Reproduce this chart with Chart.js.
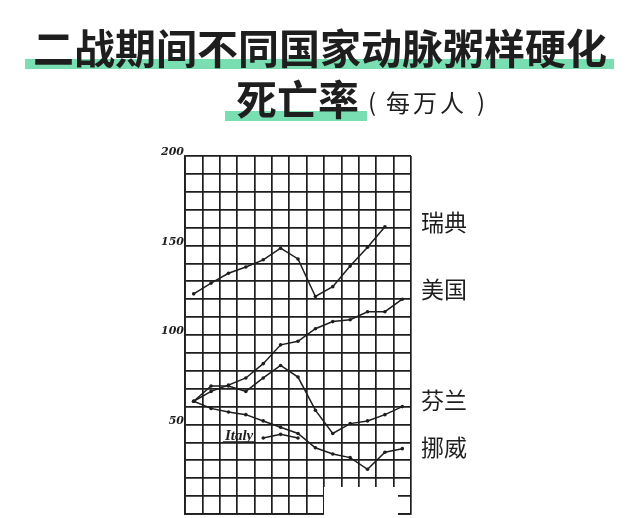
<!DOCTYPE html>
<html lang="zh">
<head>
<meta charset="UTF-8">
<title>二战期间不同国家动脉粥样硬化死亡率</title>
<script src="https://cdn.jsdelivr.net/npm/chart.js@4.4.1/dist/chart.umd.min.js"></script>
<style>
  html, body { margin: 0; padding: 0; background: #fff; }
  #wrap { position: relative; width: 640px; height: 518px; overflow: hidden; }
</style>
</head>
<body>
<div id="wrap"><canvas id="chart" width="640" height="518"></canvas></div>
<script>
// years are not printed on the original, 13 columns
const years = ['1937', '1938', '1939', '1940', '1941', '1942', '1943', '1944', '1945', '1946', '1947', '1948', '1949'];
const sweden  = [123, 129, 134.5, 138, 142, 148.5, 142.5, 121.5, 127, 138.5, 149, 160.5, null];
const usa     = [63, 68.5, 72, 76, 84, 94.5, 96.5, 103.5, 107.5, 108.5, 113, 113, 120];
const finland = [63, 71.5, 71.5, 68.5, 76, 83, 76.5, 58, 45, 50.5, 52, 55.5, 60];
const norway  = [63, 59, 57, 55.5, 52, 48.5, 45, 37, 33.5, 31.5, 25, 34.5, 36.5];
const italy   = [null, null, null, null, 42.5, 44.5, 42.5, null, null, null, null, null, null];
const countryNames = ['瑞典', '美国', '芬兰', '挪威'];
const yTickLabels = [50, 100, 150, 200];

const ink = '#1e1e1e';
const mint = '#79dfb2';
const cjk = '"Noto Sans CJK SC", "Noto Sans", sans-serif';
const nameY = [222, 289, 400, 447];

function series(data) {
  return {
    data: data,
    borderColor: ink,
    backgroundColor: ink,
    borderWidth: 1.5,
    pointRadius: 1.8,
    pointBorderWidth: 0,
    tension: 0,
    spanGaps: false
  };
}

const textPlugin = {
  id: 'texts',
  beforeDraw(chart) {
    const ctx = chart.ctx;
    ctx.save();
    // highlight bars under the title
    ctx.fillStyle = mint;
    ctx.fillRect(25, 59, 589, 10);
    ctx.fillRect(225, 111, 142, 10);
    ctx.fillStyle = ink;
    ctx.textBaseline = 'middle';
    ctx.font = 'bold 41px ' + cjk;
    ctx.textAlign = 'center';
    ctx.fillText('二战期间不同国家动脉粥样硬化', 320, 48);
    ctx.textAlign = 'left';
    ctx.fillText('死亡率', 236, 99);
    ctx.font = '24px ' + cjk;
    ctx.fillText('(', 368, 102);
    ctx.letterSpacing = '3px';
    ctx.fillText('每万人', 386, 103);
    ctx.letterSpacing = '0px';
    ctx.fillText(')', 477, 102);
    ctx.restore();
  },
  afterDatasetsDraw(chart) {
    const ctx = chart.ctx;
    const y = chart.scales.y;
    const x = chart.scales.x;
    ctx.save();
    ctx.fillStyle = ink;
    // hand written y labels
    ctx.font = 'italic bold 11px "DejaVu Serif", serif';
    ctx.textAlign = 'right';
    ctx.textBaseline = 'alphabetic';
    yTickLabels.forEach(v => {
      ctx.fillText(String(v), chart.chartArea.left - 1, y.getPixelForValue(v) - 1);
    });
    // Italy note
    ctx.font = 'italic bold 15px "Liberation Serif", serif';
    const ix = x.getPixelForValue(4) - 10;
    const iy = y.getPixelForValue(42.5) + 2;
    ctx.fillText('Italy', ix, iy);
    const w = ctx.measureText('Italy').width;
    ctx.strokeStyle = ink;
    ctx.lineWidth = 1.2;
    ctx.beginPath();
    ctx.moveTo(ix - w - 2, iy + 2);
    ctx.lineTo(ix + 1, iy + 2);
    ctx.stroke();
    // country names on the right
    ctx.font = '23px ' + cjk;
    ctx.textAlign = 'left';
    ctx.textBaseline = 'middle';
    countryNames.forEach((n, i) => ctx.fillText(n, 421, nameY[i]));
    // blank patch at the bottom of the scan
    ctx.fillStyle = '#fff';
    ctx.fillRect(324, 487, 74, 31);
    ctx.restore();
  }
};

new Chart(document.getElementById('chart'), {
  type: 'line',
  data: {
    labels: years,
    datasets: [series(sweden), series(usa), series(finland), series(norway), series(italy)]
  },
  options: {
    responsive: false,
    animation: false,
    devicePixelRatio: 1,
    layout: { padding: { left: 185, top: 156, right: 229, bottom: 1 } },
    plugins: { legend: { display: false }, tooltip: { enabled: false }, title: { display: false } },
    scales: {
      x: {
        type: 'category',
        offset: true,
        afterFit: s => { s.height = 0; },
        ticks: { display: false },
        grid: { offset: true, color: ink, lineWidth: 1.7, drawTicks: false },
        border: { display: true, color: ink, width: 1.8 }
      },
      y: {
        min: 0,
        max: 200,
        afterFit: s => { s.width = 0; },
        ticks: { display: false, stepSize: 10 },
        grid: { color: ink, lineWidth: 1.7, drawTicks: false },
        border: { display: true, color: ink, width: 1.8 }
      }
    }
  },
  plugins: [textPlugin]
});
</script>
</body>
</html>
